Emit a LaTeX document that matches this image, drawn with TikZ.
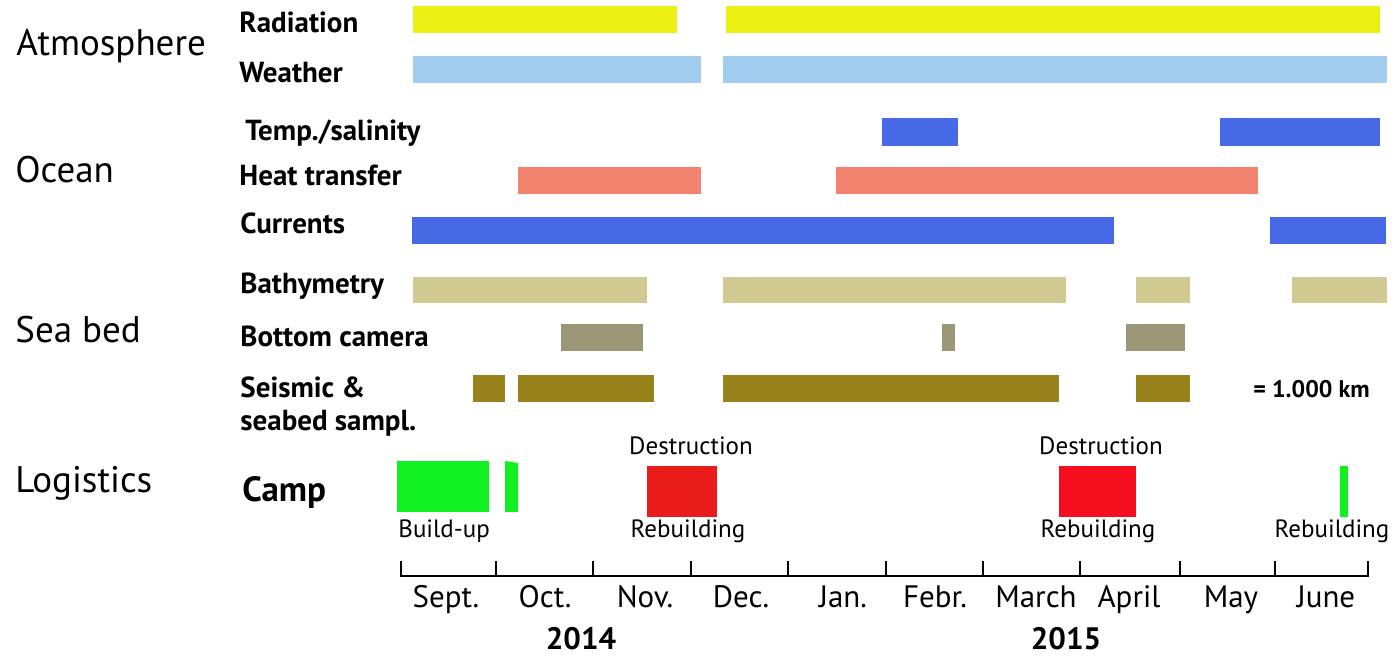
\documentclass[tikz,border=0pt]{standalone}
\usepackage{fontspec}
\setmainfont{PT Sans}
\definecolor{radyellow}{HTML}{EAEF14}
\definecolor{wxblue}{HTML}{A3CDEF}
\definecolor{seablue}{HTML}{4769E6}
\definecolor{heatred}{HTML}{F0826E}
\definecolor{bathy}{HTML}{D0CA92}
\definecolor{camgray}{HTML}{9A9676}
\definecolor{seisolive}{HTML}{97821C}
\definecolor{campgreen}{HTML}{11F020}
\definecolor{wreck}{HTML}{E91B1B}
\definecolor{wreckb}{HTML}{F50E1E}
\tikzset{
  group/.style={anchor=base west, inner sep=0pt, font=\fontsize{18.5}{22}\selectfont},
  rowlabel/.style={anchor=base west, inner sep=0pt, font=\bfseries\fontsize{14.5}{17}\selectfont},
  month/.style={anchor=base, inner sep=0pt, font=\fontsize{15.5}{18}\selectfont},
  year/.style={anchor=base, inner sep=0pt, font=\bfseries\fontsize{15.5}{18}\selectfont},
  note/.style={anchor=base, inner sep=0pt, font=\fontsize{12.5}{15}\selectfont},
  axis/.style={line width=1.2pt},
  tick/.style={line width=1pt}
}

\begin{document}
\begin{tikzpicture}[x=0.5pt, y=-0.5pt]
  \useasboundingbox (0,0) rectangle (1392,655);

  % groups
  \node[group] (atmos) at (16,55) {Atmosphere};
  \node[group] (ocean) at (15,182) {Ocean};
  \node[group] (seabed) at (15,342) {Sea bed};
  \node[group] (logist) at (15,492) {Logistics};

  % rows
  \node[rowlabel] (radiation) at (239,32) {Radiation};
  \node[rowlabel] (weather) at (239,82) {Weather};
  \node[rowlabel] (tempsal) at (245,140) {Temp./salinity};
  \node[rowlabel] (heat) at (239,185) {Heat transfer};
  \node[rowlabel] (currents) at (240,233) {Currents};
  \node[rowlabel] (bathymetry) at (240,293) {Bathymetry};
  \node[rowlabel] (camera) at (240,346) {Bottom camera};
  \node[rowlabel] (seismic) at (240,397) {Seismic \&};
  \node[rowlabel] (sampl) at (240,430) {seabed sampl.};
  \node[rowlabel, font=\bfseries\fontsize{17.5}{20}\selectfont] (camp) at (242,501) {Camp};

  % bars
  \foreach \a/\b in {413/677, 726/1380}
    \fill[radyellow] (\a,6) rectangle (\b,33);
  \foreach \a/\b in {413/701, 723/1387}
    \fill[wxblue] (\a,56) rectangle (\b,83);
  \foreach \a/\b in {882/958, 1220/1380}
    \fill[seablue] (\a,118) rectangle (\b,146);
  \foreach \a/\b in {518/701, 836/1258}
    \fill[heatred] (\a,167) rectangle (\b,194);
  \foreach \a/\b in {412/1114, 1270/1386}
    \fill[seablue] (\a,217) rectangle (\b,244);
  \foreach \a/\b in {413/647, 723/1066, 1136/1190, 1292/1387}
    \fill[bathy] (\a,277) rectangle (\b,303);
  \foreach \a/\b in {561/643, 942/955, 1126/1185}
    \fill[camgray] (\a,324) rectangle (\b,351);
  \foreach \a/\b in {473/505, 518/654, 723/1059, 1136/1190}
    \fill[seisolive] (\a,375) rectangle (\b,402);
  \node[anchor=base west, inner sep=0pt, font=\bfseries\fontsize{12}{14}\selectfont] (scale) at (1253,397) {= 1.000 km};

  % camp
  \fill[campgreen] (397,461) rectangle (489,512);
  \fill[campgreen] (505,461) -- (518,463) -- (518,512) -- (505,512) -- cycle;
  \fill[wreck] (647,466) rectangle (717,517);
  \fill[wreckb] (1059,466) rectangle (1136,517);
  \fill[campgreen] (1340,466) rectangle (1348,517);
  \node[note, anchor=base west] (buildup) at (398,537) {Build-up};
  \node[note] (destr1) at (691,454) {Destruction};
  \node[note] (rebuild1) at (688,537) {Rebuilding};
  \node[note] (destr2) at (1101,454) {Destruction};
  \node[note] (rebuild2) at (1098,537) {Rebuilding};
  \node[note] (rebuild3) at (1332,537) {Rebuilding};

  % time axis
  \coordinate (axstart) at (401,576);
  \coordinate (axend) at (1368,576);
  \draw[axis] (axstart) -- (axend);
  \foreach \x in {401,496,593,691,788,886,983,1080,1180,1275,1368}
    \draw[tick] (\x,576.5) -- (\x,561);
  \foreach \x/\m [count=\i] in {446/Sept., 545/Oct., 645/Nov., 741/Dec., 843/Jan., 935/Febr., 1036/March, 1129/April, 1231/May, 1326/June}
    \node[month] (mon\i) at (\x,607) {\m};
  \node[year] (y2014) at (581,649) {2014};
  \node[year] (y2015) at (1066,649) {2015};
\end{tikzpicture}
\end{document}
